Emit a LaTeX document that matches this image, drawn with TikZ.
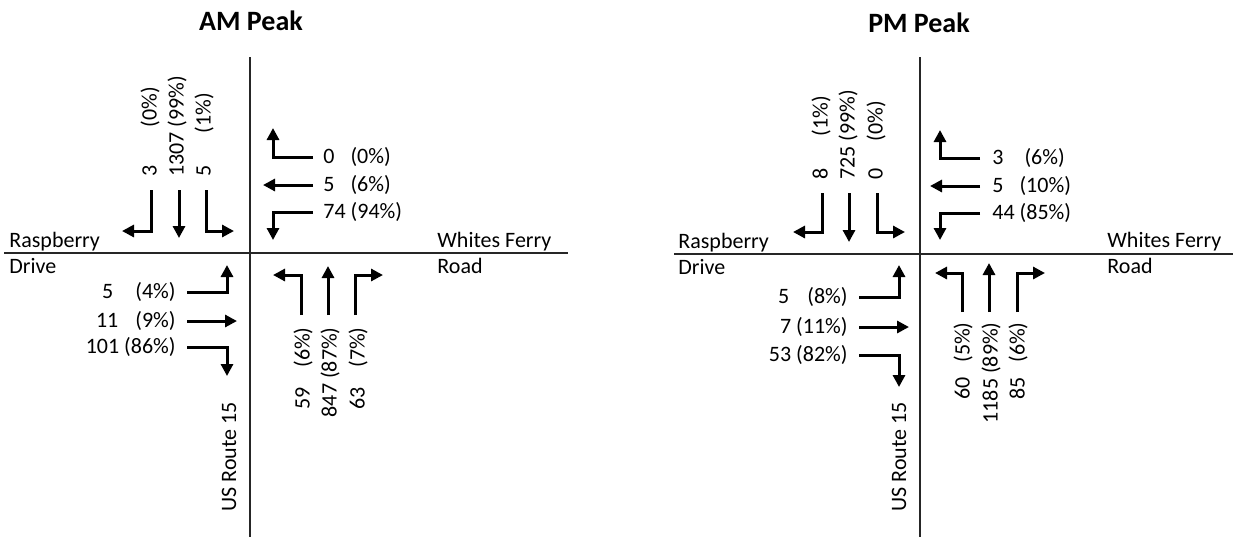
\documentclass[tikz,border=0pt]{standalone}
\usepackage{fontspec}
\setmainfont{Carlito}
\usetikzlibrary{arrows.meta}
\begin{document}
\begin{tikzpicture}[x=0.5pt,y=-0.5pt,
    road/.style={line width=0.6pt,black!85},
    mov/.style={line width=1.5pt,-{Triangle[length=6pt,width=6pt]}},
    lbl/.style={inner sep=0pt,font=\fontsize{11}{13}\selectfont},
    ttl/.style={inner sep=0pt,font=\bfseries\fontsize{14}{17}\selectfont}]
  \useasboundingbox (0,0) rectangle (1236,537);
  % AM peak
  \node[ttl] (amtitle) at (251,21) {AM Peak};
  \draw[road] (250,57) -- (250,537);
  \draw[road] (4,253) -- (568,253);
  \node[lbl,anchor=base west] (amrasp) at (9,247) {Raspberry};
  \node[lbl,anchor=base west] (amdrive) at (9,273) {Drive};
  \node[lbl,anchor=base west] (amwhites) at (437,247) {Whites Ferry};
  \node[lbl,anchor=base west] (amroad) at (437,273) {Road};
  \node[lbl,rotate=90] (amus) at (229,457) {US Route 15};
  \draw[mov] (151,190) -- (151,231) -- (122,231);
  \draw[mov] (179,190) -- (179,238);
  \draw[mov] (206,190) -- (206,231) -- (234,231);
  \node[lbl,rotate=90,anchor=west] (amsbl) at (150,177) {3\hspace{19pt}(0\%)};
  \node[lbl,rotate=90,anchor=west] (amsbt) at (177,177) {1307 (99\%)};
  \node[lbl,rotate=90,anchor=west] (amsbr) at (204,177) {5\hspace{16pt}(1\%)};
  \draw[mov] (313,157) -- (273,157) -- (273,128);
  \draw[mov] (313,185) -- (263,185);
  \draw[mov] (313,212) -- (273,212) -- (273,240);
  \node[lbl,anchor=west] (amwbr) at (323,157) {0\hspace{8pt}(0\%)};
  \node[lbl,anchor=west] (amwbt) at (323,185) {5\hspace{8pt}(6\%)};
  \node[lbl,anchor=west] (amwbl) at (323,212) {74 (94\%)};
  \draw[mov] (187,292) -- (227,292) -- (227,265);
  \draw[mov] (187,321) -- (237,321);
  \draw[mov] (187,347) -- (227,347) -- (227,376);
  \node[lbl,anchor=east] (amebl) at (176,292) {5\hspace{11pt}(4\%)};
  \node[lbl,anchor=east] (amebt) at (176,321) {11\hspace{8.5pt}(9\%)};
  \node[lbl,anchor=east] (amebr) at (176,347) {101 (86\%)};
  \draw[mov] (301,315) -- (301,275) -- (273,275);
  \draw[mov] (328,315) -- (328,266);
  \draw[mov] (355,315) -- (355,275) -- (383,275);
  \node[lbl,rotate=90,anchor=east] (amnbl) at (303,327) {59\hspace{10pt}(6\%)};
  \node[lbl,rotate=90,anchor=east] (amnbt) at (330,327) {847 (87\%)};
  \node[lbl,rotate=90,anchor=east] (amnbr) at (358,327) {63\hspace{10pt}(7\%)};
  % PM peak
  \node[ttl] (pmtitle) at (919,23) {PM Peak};
  \draw[road] (920,57) -- (920,537);
  \draw[road] (674,254) -- (1233,254);
  \node[lbl,anchor=base west] (pmrasp) at (678,248) {Raspberry};
  \node[lbl,anchor=base west] (pmdrive) at (678,274) {Drive};
  \node[lbl,anchor=base west] (pmwhites) at (1107,247) {Whites Ferry};
  \node[lbl,anchor=base west] (pmroad) at (1107,273) {Road};
  \node[lbl,rotate=90] (pmus) at (899,457) {US Route 15};
  \draw[mov] (822,193) -- (822,232) -- (793,232);
  \draw[mov] (849,193) -- (849,242);
  \draw[mov] (877,193) -- (877,232) -- (905,232);
  \node[lbl,rotate=90,anchor=west] (pmsbl) at (821,180) {8\hspace{16pt}(1\%)};
  \node[lbl,rotate=90,anchor=west] (pmsbt) at (848,180) {725 (99\%)};
  \node[lbl,rotate=90,anchor=west] (pmsbr) at (876,180) {0\hspace{13.5pt}(0\%)};
  \draw[mov] (980,158) -- (940,158) -- (940,130);
  \draw[mov] (980,186) -- (930,186);
  \draw[mov] (980,213) -- (940,213) -- (940,240);
  \node[lbl,anchor=west] (pmwbr) at (992,158) {3\hspace{10.5pt}(6\%)};
  \node[lbl,anchor=west] (pmwbt) at (992,186) {5\hspace{8pt}(10\%)};
  \node[lbl,anchor=west] (pmwbl) at (992,213) {44 (85\%)};
  \draw[mov] (859,297) -- (899,297) -- (899,265);
  \draw[mov] (859,327) -- (909,327);
  \draw[mov] (859,355) -- (899,355) -- (899,387);
  \node[lbl,anchor=east] (pmebl) at (848,297) {5\hspace{9pt}(8\%)};
  \node[lbl,anchor=east] (pmebt) at (848,327) {7 (11\%)};
  \node[lbl,anchor=east] (pmebr) at (848,355) {53 (82\%)};
  \draw[mov] (962,312) -- (962,273) -- (935,273);
  \draw[mov] (989,312) -- (989,263);
  \draw[mov] (1017,312) -- (1017,273) -- (1045,273);
  \node[lbl,rotate=90,anchor=east] (pmnbl) at (963,322) {60\hspace{7.5pt}(5\%)};
  \node[lbl,rotate=90,anchor=east] (pmnbt) at (991,322) {1185 (89\%)};
  \node[lbl,rotate=90,anchor=east] (pmnbr) at (1018,322) {85\hspace{7.5pt}(6\%)};
\end{tikzpicture}
\end{document}
